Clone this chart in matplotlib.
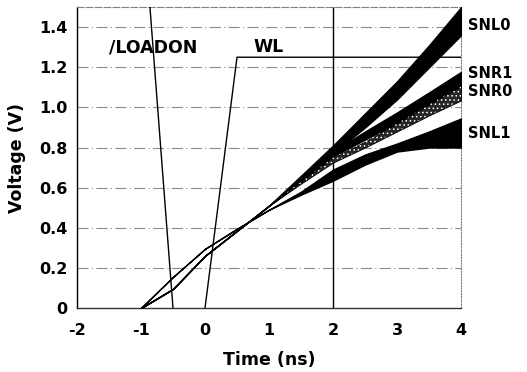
import matplotlib
matplotlib.use("Agg")
import matplotlib.pyplot as plt
import numpy as np

plt.rcParams['font.family'] = ['DejaVu Sans']

# ---- data ----
t = [-1.0, -0.5, 0.0, 0.5, 1.0, 1.5, 2.0, 2.5, 3.0, 3.5, 4.0]
snl0_hi = [0.0, 0.095, 0.26, 0.385, 0.51, 0.66, 0.81, 0.97, 1.13, 1.31, 1.50]
snl0_lo = [0.0, 0.095, 0.26, 0.385, 0.51, 0.64, 0.77, 0.90, 1.04, 1.20, 1.36]
snr1_hi = [0.0, 0.095, 0.26, 0.385, 0.51, 0.65, 0.78, 0.88, 0.975, 1.075, 1.177]
snr1_lo = [0.0, 0.095, 0.26, 0.385, 0.51, 0.63, 0.755, 0.84, 0.92, 1.01, 1.095]
snr0_hi = [0.0, 0.095, 0.26, 0.385, 0.51, 0.63, 0.75, 0.83, 0.92, 1.015, 1.105]
snr0_lo = [0.0, 0.095, 0.26, 0.385, 0.51, 0.62, 0.725, 0.80, 0.88, 0.96, 1.035]
snl1_hi = [0.0, 0.155, 0.295, 0.395, 0.49, 0.58, 0.69, 0.765, 0.82, 0.88, 0.945]
snl1_lo = [0.0, 0.155, 0.295, 0.395, 0.49, 0.565, 0.635, 0.715, 0.78, 0.80, 0.80]

loadon_t = [-0.86, -0.5]
loadon_v = [1.5, 0.0]
wl_t = [0.0, 0.5, 4.0]
wl_v = [0.0, 1.25, 1.25]

xticks = [-2, -1, 0, 1, 2, 3, 4]
xtick_labels = ["-2", "-1", "0", "1", "2", "3", "4"]
yticks = [0, 0.2, 0.4, 0.6, 0.8, 1.0, 1.2, 1.4]
ytick_labels = ["0", "0.2", "0.4", "0.6", "0.8", "1.0", "1.2", "1.4"]

band_labels = ["SNL0", "SNR1", "SNR0", "SNL1"]
band_label_y = [1.41, 1.17, 1.08, 0.87]

# ---- figure ----
fig = plt.figure(figsize=(5.27, 3.72), dpi=100)
ax = fig.add_axes([0.146, 0.172, 0.729, 0.809])
ax.set_xlim(-2, 4)
ax.set_ylim(0, 1.5)

# grid
for y in yticks[1:]:
    ax.axhline(y, color='0.55', lw=0.8, ls=(0, (10, 3, 1, 3)), zorder=1)
ax.axvline(2, color='black', lw=1.0, zorder=2)

# signals
ax.plot(loadon_t, loadon_v, color='black', lw=1.0, zorder=3)
ax.plot(wl_t, wl_v, color='black', lw=1.0, zorder=3)

for lo, hi in [(snl0_lo, snl0_hi), (snr1_lo, snr1_hi), (snl1_lo, snl1_hi)]:
    ax.fill_between(t, lo, hi, facecolor='black', edgecolor='black', lw=1.0, zorder=4)
ax.fill_between(t, snr0_lo, snr0_hi, facecolor='0.15', edgecolor='black',
                lw=0.6, zorder=5)
plt.rcParams['hatch.linewidth'] = 0.6
ax.fill_between(t, snr0_lo, snr0_hi, facecolor='none', edgecolor='white',
                lw=0, hatch='....', zorder=6)

# labels
ax.text(-0.81, 1.30, "/LOADON", ha='center', va='center',
        fontsize=12.5, fontweight='bold')
ax.text(1.0, 1.30, "WL", ha='center', va='center',
        fontsize=12.5, fontweight='bold')
for lab, yv in zip(band_labels, band_label_y):
    ax.text(4.1, yv, lab, ha='left', va='center', fontsize=10.5,
            fontweight='bold', clip_on=False)

ax.set_xticks(xticks)
ax.set_xticklabels(xtick_labels)
ax.set_yticks(yticks)
ax.set_yticklabels(ytick_labels)
ax.tick_params(axis='y', length=0, labelsize=11.5, pad=7)
ax.tick_params(axis='x', length=0, labelsize=11.5, pad=11)
for lab in ax.get_xticklabels() + ax.get_yticklabels():
    lab.set_fontweight('bold')
ax.set_xlabel("Time (ns)", fontsize=12.5, fontweight='bold', labelpad=9)
ax.set_ylabel("Voltage (V)", fontsize=12.5, fontweight='bold', labelpad=9)

ax.spines['left'].set_color('black')
ax.spines['left'].set_linewidth(1.0)
ax.spines['bottom'].set_color('0.2')
ax.spines['bottom'].set_linewidth(1.0)
ax.spines['top'].set_color('0.5')
ax.spines['top'].set_linestyle((0, (6, 2)))
ax.spines['top'].set_linewidth(0.8)
ax.spines['right'].set_color('0.5')
ax.spines['right'].set_linestyle((0, (1, 1.5)))
ax.spines['right'].set_linewidth(0.8)

fig.savefig("out.png", dpi=100)
